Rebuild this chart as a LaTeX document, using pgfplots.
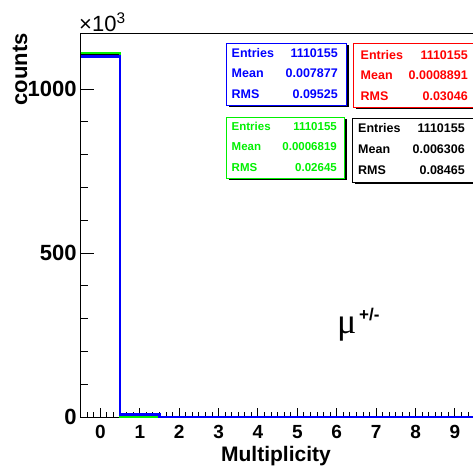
\documentclass[border=0pt]{standalone}
\usepackage{pgfplots}
\pgfplotsset{compat=1.18}
\usepackage{fontspec}
\setmainfont{Liberation Sans}
\newfontfamily\seriffont{Liberation Serif}
\definecolor{rblue}{RGB}{0,0,255}
\definecolor{rred}{RGB}{255,0,0}
\definecolor{rgreen}{RGB}{0,240,0}
\newcommand{\statbox}[5]{%
  \fill[black] ({#2pt+2.5pt},{469pt-#5pt-2.5pt}) rectangle ({#4pt+2.5pt},{469pt-#3pt-2.5pt});
  \filldraw[draw=#1, fill=white, line width=0.9pt] (#2pt,{469pt-#5pt}) rectangle (#4pt,{469pt-#3pt});
}
\begin{document}
\begin{tikzpicture}
\begin{scope}
\clip (0,0) rectangle (473pt,469pt);
\begin{axis}[
  at={(80.7pt,52pt)}, anchor=south west, scale only axis,
  width=397.9pt, height=383pt,
  xmin=-0.5, xmax=9.6, ymin=0, ymax=1168,
  clip=false,
  axis line style={black, line width=1pt},
  every tick/.style={black, line width=1pt},
  tick pos=left, tick align=inside,
  xtick={0,...,9}, ytick={0,500,1000},
  minor xtick={-0.5,-0.33333,...,9.6},
  minor y tick num=4,
  major tick length=13pt, minor tick length=7pt,
  xtick style={/pgfplots/major tick length=9pt,/pgfplots/minor tick length=5.5pt},
  scaled y ticks=false,
  /pgf/number format/1000 sep={},
  /pgf/number format/assume math mode=true,
  xticklabel style={font=\bfseries\fontsize{19}{21}\selectfont, anchor=north, inner sep=0pt, yshift=-8pt},
  yticklabel style={font=\bfseries\fontsize{22}{24}\selectfont, anchor=east, inner sep=0pt, xshift=-4pt},
]
\addplot[black, line width=2pt, const plot mark left] coordinates {(-0.5,1103.4) (0.5,6.5) (1.5,0.2) (2.5,0) (3.5,0) (4.5,0) (5.5,0) (6.5,0) (7.5,0) (8.5,0) (9.5,0) (10.5,0)};
\addplot[rred, line width=2pt, const plot mark left] coordinates {(-0.5,1109.2) (0.5,1.0) (1.5,0) (2.5,0) (3.5,0) (4.5,0) (5.5,0) (6.5,0) (7.5,0) (8.5,0) (9.5,0) (10.5,0)};
\addplot[rgreen, line width=1.8pt, const plot mark left] coordinates {(-0.5,1109.6) (0.5,0.76) (1.5,0) (2.5,0) (3.5,0) (4.5,0) (5.5,0) (6.5,0) (7.5,0) (8.5,0) (9.5,0) (10.5,0)};
\addplot[rblue, line width=2.6pt, const plot mark left] coordinates {(-0.5,1099.5) (0.5,8.4) (1.5,0.3) (2.5,0) (3.5,0) (4.5,0) (5.5,0) (6.5,0) (7.5,0) (8.5,0) (9.5,0) (10.5,0)};
\end{axis}
% axis titles
\node[rotate=90, anchor=base east, inner sep=0pt, font=\bfseries\fontsize{22}{24}\selectfont] at (27pt,436pt) {counts};
\node[anchor=base, inner sep=0pt, font=\bfseries\fontsize{21}{24}\selectfont] at (276pt,7.5pt) {Multiplicity};
\node[anchor=base west, inner sep=0pt, font=\fontsize{22}{24}\selectfont] at (79pt,437.5pt) {×10\textsuperscript{3}};
% mu label
\node[anchor=base west, inner sep=0pt, font=\seriffont\fontsize{36}{38}\selectfont] at (337pt,136pt) {μ};
\node[anchor=base west, inner sep=0pt, font=\bfseries\fontsize{17}{19}\selectfont] at (359pt,149pt) {+/-};
% stat boxes
\statbox{rblue}{226}{43}{346}{105}
\statbox{rred}{353}{43}{480}{107}
\statbox{rgreen}{226}{117}{344}{178}
\statbox{black}{352}{118}{480}{182}
\begin{scope}[every node/.style={inner sep=0pt, font=\bfseries\fontsize{12.5}{14}\selectfont}]
% blue
\node[rblue, anchor=base west] at (231.5pt,411.5pt) {Entries};
\node[rblue, anchor=base east] at (338pt,411.5pt) {1110155};
\node[rblue, anchor=base west] at (231.5pt,391.5pt) {Mean};
\node[rblue, anchor=base east] at (338pt,391.5pt) {0.007877};
\node[rblue, anchor=base west] at (231.5pt,370.5pt) {RMS};
\node[rblue, anchor=base east] at (338pt,370.5pt) {0.09525};
% red
\node[rred, anchor=base west] at (360.5pt,409.5pt) {Entries};
\node[rred, anchor=base east] at (468pt,409.5pt) {1110155};
\node[rred, anchor=base west] at (360.5pt,389.5pt) {Mean};
\node[rred, anchor=base east] at (468pt,389.5pt) {0.0008891};
\node[rred, anchor=base west] at (360.5pt,368.5pt) {RMS};
\node[rred, anchor=base east] at (468pt,368.5pt) {0.03046};
\end{scope}
\begin{scope}[every node/.style={inner sep=0pt, font=\bfseries\fontsize{11.5}{13}\selectfont}]
% green
\node[rgreen, anchor=base west] at (231.5pt,338pt) {Entries};
\node[rgreen, anchor=base east] at (337pt,338pt) {1110155};
\node[rgreen, anchor=base west] at (231.5pt,318.5pt) {Mean};
\node[rgreen, anchor=base east] at (337pt,318.5pt) {0.0006819};
\node[rgreen, anchor=base west] at (231.5pt,297.5pt) {RMS};
\node[rgreen, anchor=base east] at (337pt,297.5pt) {0.02645};
\end{scope}
\begin{scope}[every node/.style={inner sep=0pt, font=\bfseries\fontsize{12.5}{14}\selectfont}]
% black
\node[black, anchor=base west] at (358pt,336.5pt) {Entries};
\node[black, anchor=base east] at (465pt,336.5pt) {1110155};
\node[black, anchor=base west] at (358pt,315.5pt) {Mean};
\node[black, anchor=base east] at (465pt,315.5pt) {0.006306};
\node[black, anchor=base west] at (358pt,294.5pt) {RMS};
\node[black, anchor=base east] at (465pt,294.5pt) {0.08465};
\end{scope}
\end{scope}
\pgfresetboundingbox
\useasboundingbox (0,0) rectangle (473pt,469pt);
\end{tikzpicture}
\end{document}
